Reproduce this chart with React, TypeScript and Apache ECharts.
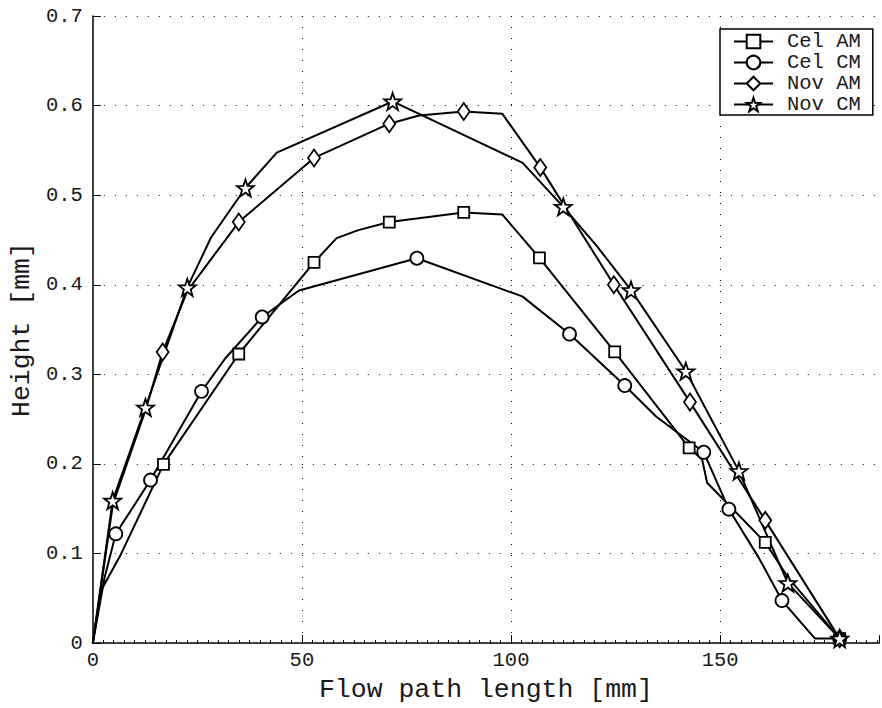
import React, { useEffect, useRef } from "react";
import * as echarts from "echarts";

// ---- data (x: flow path length [mm], y: height [mm]); mark = 1 where a marker is drawn
const celAmX = [0, 2.0, 6.7, 16.9, 34.9, 52.9, 58.3, 63.5, 70.9, 88.7, 97.9, 106.8, 124.8, 142.6, 145.7, 146.9, 160.8, 166.3, 178.6];
const celAmY = [0, 0.059, 0.099, 0.1995, 0.3227, 0.425, 0.452, 0.461, 0.47, 0.4807, 0.4785, 0.43, 0.325, 0.218, 0.205, 0.179, 0.1124, 0.073, 0.005];
const celAmMark = [0, 0, 0, 1, 1, 1, 0, 0, 1, 1, 0, 1, 1, 1, 0, 0, 1, 0, 1];

const celCmX = [0, 2.8, 5.5, 13.8, 26.0, 31.7, 40.5, 49.3, 77.5, 102.7, 114.0, 127.2, 134.7, 146.1, 152.1, 159.2, 164.8, 172.7, 178.6];
const celCmY = [0, 0.073, 0.122, 0.182, 0.281, 0.318, 0.364, 0.3936, 0.4296, 0.387, 0.345, 0.2875, 0.253, 0.213, 0.1495, 0.0957, 0.0475, 0.005, 0.005];
const celCmMark = [0, 0, 1, 1, 1, 0, 1, 0, 1, 0, 1, 1, 0, 1, 1, 0, 1, 0, 1];

const novAmX = [0, 4.8, 12.6, 16.7, 22.6, 34.9, 52.9, 70.9, 78.0, 88.7, 97.9, 107.0, 124.6, 142.8, 160.8, 178.6];
const novAmY = [0, 0.155, 0.26, 0.325, 0.393, 0.47, 0.5416, 0.5798, 0.589, 0.5935, 0.591, 0.531, 0.4, 0.269, 0.137, 0.005];
const novAmMark = [0, 0, 0, 1, 0, 1, 1, 1, 0, 1, 0, 1, 1, 1, 1, 1];

const novCmX = [0, 4.75, 12.6, 22.6, 28.3, 36.5, 44.0, 71.7, 102.8, 112.5, 120.4, 128.7, 141.8, 154.5, 166.2, 178.6];
const novCmY = [0, 0.159, 0.263, 0.397, 0.453, 0.508, 0.5475, 0.6046, 0.536, 0.487, 0.444, 0.394, 0.3034, 0.192, 0.067, 0.005];
const novCmMark = [0, 1, 1, 1, 0, 1, 0, 1, 0, 1, 0, 1, 1, 1, 1, 1];

const seriesNames = ["Cel AM", "Cel CM", "Nov AM", "Nov CM"];
const xTicks = [0, 50, 100, 150];
const yTicks = [0, 0.1, 0.2, 0.3, 0.4, 0.5, 0.6, 0.7];

const STAR =
  "path://M0,-10 L2.35,-3.24 L9.51,-3.09 L3.8,1.24 L5.88,8.09 L0,4 L-5.88,8.09 L-3.8,1.24 L-9.51,-3.09 L-2.35,-3.24 Z";

const FONT = "'Liberation Mono', 'Courier New', monospace";
const TXT = "#1a1a1a";

function build(xs: number[], ys: number[], marks: number[]) {
  return xs.map((x, i) =>
    marks[i] ? { value: [x, ys[i]] } : { value: [x, ys[i]], symbol: "none" }
  );
}

export default function App() {
  const ref = useRef<HTMLDivElement>(null);
  useEffect(() => {
    document.body.style.margin = "0";
    const chart = echarts.init(ref.current!, undefined, { renderer: "svg" });
    const mk = (name: string, data: any[], symbol: string, size: any) => ({
      name,
      type: "line",
      xAxisIndex: 0,
      data,
      symbol,
      symbolSize: size,
      showAllSymbol: true,
      lineStyle: { color: "#000", width: 2 },
      itemStyle: { color: "#fff", borderColor: "#000", borderWidth: 1.8 },
      emphasis: { disabled: true },
    });
    chart.setOption({
      animation: false,
      backgroundColor: "#fff",
      grid: { left: 92.7, right: 0, top: 16, bottom: 62.7, containLabel: false },
      legend: {
        left: 720,
        top: 29,
        orient: "vertical",
        padding: [2, 12, 0, 13],
        itemGap: 0,
        itemWidth: 39,
        itemHeight: 17,
        backgroundColor: "#fff",
        borderColor: "#000",
        borderWidth: 1.5,
        borderRadius: 0,
        data: seriesNames,
        textStyle: {
          fontFamily: FONT,
          fontSize: 20.5,
          lineHeight: 21,
          color: TXT,
          padding: [0, 0, 0, 9],
        },
      },
      xAxis: [
        {
          type: "value",
          min: 0,
          max: 188,
          interval: 50,
          position: "bottom",
          name: "Flow path length [mm]",
          nameLocation: "middle",
          nameGap: 32,
          nameTextStyle: { fontFamily: FONT, fontSize: 26.5, color: TXT },
          axisLine: { show: true, onZero: false, lineStyle: { color: "#000", width: 1.5 } },
          axisTick: { show: true, inside: true, length: 8, lineStyle: { color: "#000", width: 1 } },
          axisLabel: {
            margin: 7,
            fontFamily: FONT,
            fontSize: 20.5,
            color: TXT,
            formatter: (v: number) => (xTicks.indexOf(v) >= 0 ? String(v) : ""),
          },
          splitLine: {
            show: true,
            showMinLine: false,
            showMaxLine: false,
            lineStyle: { type: [1, 10], color: "#000", width: 1 },
          },
        },
        {
          type: "value",
          min: 0,
          max: 188,
          interval: 2.5,
          position: "bottom",
          axisLine: { show: false },
          axisTick: { show: true, inside: true, length: 3, lineStyle: { color: "#000", width: 1 } },
          axisLabel: { show: false },
          splitLine: { show: false },
        },
      ],
      yAxis: {
        type: "value",
        min: 0,
        max: 0.7,
        interval: 0.1,
        name: "Height [mm]",
        nameLocation: "middle",
        nameGap: 54,
        nameTextStyle: { fontFamily: FONT, fontSize: 26.5, color: TXT },
        axisLine: { show: true, onZero: false, lineStyle: { color: "#000", width: 1.5 } },
        axisTick: { show: true, inside: true, length: 8, lineStyle: { color: "#000", width: 1 } },
        axisLabel: {
          margin: 10,
          fontFamily: FONT,
          fontSize: 20.5,
          color: TXT,
          formatter: (v: number) => {
            const t = yTicks.find((k) => Math.abs(k - v) < 1e-9);
            if (t === undefined) return "";
            return t === 0 ? "0" : t.toFixed(1);
          },
        },
        splitLine: {
          show: true,
          showMinLine: false,
          lineStyle: { type: [1, 10], color: "#000", width: 1 },
        },
      },
      series: [
        mk(seriesNames[0], build(celAmX, celAmY, celAmMark), "rect", 11),
        mk(seriesNames[1], build(celCmX, celCmY, celCmMark), "circle", 13),
        mk(seriesNames[2], build(novAmX, novAmY, novAmMark), "diamond", [12, 17]),
        mk(seriesNames[3], build(novCmX, novCmY, novCmMark), STAR, 17),
      ],
    });
    return () => chart.dispose();
  }, []);
  return <div ref={ref} style={{ width: 882, height: 708 }} />;
}
